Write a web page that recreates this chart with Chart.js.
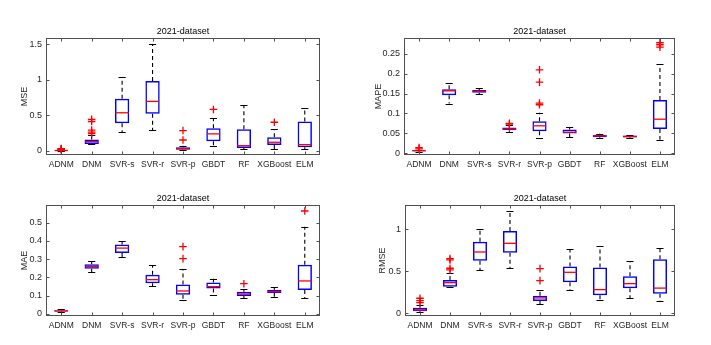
<!DOCTYPE html>
<html><head><meta charset="utf-8">
<script src="https://cdn.jsdelivr.net/npm/chart.js@4/dist/chart.umd.min.js"></script>
<style>
html,body{margin:0;padding:0;background:#fff;width:711px;height:345px;overflow:hidden;position:relative}
canvas{position:absolute}
</style></head><body>
<canvas id="c1" width="330" height="160" style="left:0px;top:20px"></canvas>
<canvas id="c2" width="345" height="160" style="left:340px;top:20px"></canvas>
<canvas id="c3" width="330" height="155" style="left:0px;top:187px"></canvas>
<canvas id="c4" width="345" height="155" style="left:340px;top:187px"></canvas>
<script>
const categories = ['ADNM','DNM','SVR-s','SVR-r','SVR-p','GBDT','RF','XGBoost','ELM'];
const chartTitle = '2021-dataset';

// MSE
const mseLow  = [0.000, 0.090, 0.260, 0.290, 0.005, 0.066, 0.020, 0.025, 0.020];
const mseQ1   = [0.001, 0.094, 0.387, 0.520, 0.014, 0.132, 0.038, 0.080, 0.047];
const mseMed  = [0.002, 0.127, 0.533, 0.693, 0.028, 0.236, 0.070, 0.118, 0.085];
const mseQ3   = [0.004, 0.156, 0.730, 0.980, 0.047, 0.316, 0.300, 0.190, 0.410];
const mseHigh = [0.008, 0.215, 1.030, 1.500, 0.070, 0.458, 0.640, 0.300, 0.600];
const mseOut  = [[0.012,0.018,0.024,0.030],[0.44,0.41,0.29,0.26,0.24],[],[],[0.283,0.15],[0.58],[],[0.40],[]];
const mseTicks = [0, 0.5, 1, 1.5];
const mseTickLabels = ['0','0.5','1','1.5'];

// MAPE
const mapeLow  = [0.004, 0.125, 0.148, 0.054, 0.038, 0.040, 0.0386, 0.038, 0.0336];
const mapeQ1   = [0.005, 0.146, 0.152, 0.058, 0.055, 0.0495, 0.040, 0.0394, 0.061];
const mapeMed  = [0.006, 0.157, 0.156, 0.061, 0.069, 0.053, 0.0436, 0.042, 0.0856];
const mapeQ3   = [0.0075, 0.161, 0.159, 0.0646, 0.0805, 0.060, 0.046, 0.0445, 0.134];
const mapeHigh = [0.009, 0.176, 0.164, 0.070, 0.102, 0.066, 0.0487, 0.046, 0.224];
const mapeOut  = [[0.011,0.014],[],[],[0.073,0.075],[0.21,0.179,0.126,0.122],[],[],[],[0.278,0.273,0.267]];
const mapeTicks = [0, 0.05, 0.1, 0.15, 0.2, 0.25];
const mapeTickLabels = ['0','0.05','0.1','0.15','0.2','0.25'];

// MAE
const maeLow  = [0.009, 0.228, 0.312, 0.153, 0.077, 0.104, 0.086, 0.095, 0.086];
const maeQ1   = [0.013, 0.248, 0.334, 0.168, 0.106, 0.139, 0.0985, 0.115, 0.131];
const maeMed  = [0.016, 0.261, 0.361, 0.188, 0.126, 0.150, 0.1095, 0.122, 0.181];
const maeQ3   = [0.020, 0.272, 0.380, 0.215, 0.162, 0.172, 0.122, 0.133, 0.270];
const maeHigh = [0.0255, 0.288, 0.400, 0.268, 0.245, 0.193, 0.135, 0.146, 0.478];
const maeOut  = [[],[],[],[],[0.369,0.303],[],[0.166],[],[0.564]];
const maeTicks = [0, 0.1, 0.2, 0.3, 0.4, 0.5];
const maeTickLabels = ['0','0.1','0.2','0.3','0.4','0.5'];

// RMSE
const rmseLow  = [0.016, 0.310, 0.516, 0.536, 0.107, 0.278, 0.155, 0.183, 0.147];
const rmseQ1   = [0.024, 0.317, 0.627, 0.722, 0.147, 0.369, 0.214, 0.298, 0.234];
const rmseMed  = [0.040, 0.365, 0.730, 0.833, 0.183, 0.488, 0.282, 0.353, 0.300];
const rmseQ3   = [0.067, 0.397, 0.853, 0.980, 0.210, 0.556, 0.544, 0.440, 0.643];
const rmseHigh = [0.100, 0.484, 1.004, 1.222, 0.274, 0.766, 0.800, 0.623, 0.774];
const rmseOut  = [[0.179,0.151,0.127],[0.651,0.635,0.536,0.516],[],[],[0.532,0.389],[],[],[],[]];
const rmseTicks = [0, 0.5, 1];
const rmseTickLabels = ['0','0.5','1'];

const FONT = "'Liberation Sans', Arial, sans-serif";
const TXT = '#262626';
const FRAME = '#505050';

const boxPlugin = {
  id: 'boxes',
  beforeDatasetsDraw(chart, args, o) {
    const ctx = chart.ctx, x = chart.scales.x, y = chart.scales.y;
    const bars = chart.getDatasetMeta(1).data;
    ctx.save();
    ctx.strokeStyle = '#000';
    ctx.lineWidth = 1.1;
    categories.forEach((c, i) => {
      const cx = x.getPixelForValue(i);
      const hw = bars[i].width / 4;
      ctx.setLineDash([4, 3]);
      ctx.beginPath();
      ctx.moveTo(cx, y.getPixelForValue(o.q3[i])); ctx.lineTo(cx, y.getPixelForValue(o.hi[i]));
      ctx.moveTo(cx, y.getPixelForValue(o.q1[i])); ctx.lineTo(cx, y.getPixelForValue(o.lo[i]));
      ctx.stroke();
      ctx.setLineDash([]);
      ctx.beginPath();
      const yh = Math.round(y.getPixelForValue(o.hi[i])) + 0.5;
      const yl = Math.round(y.getPixelForValue(o.lo[i])) + 0.5;
      ctx.moveTo(cx - hw, yh); ctx.lineTo(cx + hw, yh);
      ctx.moveTo(cx - hw, yl); ctx.lineTo(cx + hw, yl);
      ctx.stroke();
    });
    ctx.restore();
  },
  afterDatasetsDraw(chart, args, o) {
    const ctx = chart.ctx, x = chart.scales.x, y = chart.scales.y;
    const bars = chart.getDatasetMeta(1).data;
    ctx.save();
    ctx.strokeStyle = '#ff0000';
    ctx.lineWidth = 1.3;
    categories.forEach((c, i) => {
      const cx = x.getPixelForValue(i);
      const hw = bars[i].width / 2 - 0.5;
      const ym = y.getPixelForValue(o.med[i]);
      ctx.beginPath(); ctx.moveTo(cx - hw, ym); ctx.lineTo(cx + hw, ym); ctx.stroke();
    });
    ctx.restore();
  },
  afterDraw(chart, args, o) {
    const ctx = chart.ctx, a = chart.chartArea, x = chart.scales.x, y = chart.scales.y;
    ctx.save();
    const L = Math.round(a.left) + 0.5, R = Math.round(a.right) - 0.5;
    const T = Math.round(a.top) + 0.5, B = Math.round(a.bottom) - 0.5;
    ctx.strokeStyle = FRAME; ctx.lineWidth = 1;
    ctx.strokeRect(L, T, R - L, B - T);
    ctx.beginPath();
    o.ticks.forEach(v => {
      const yy = Math.round(y.getPixelForValue(v)) + 0.5;
      ctx.moveTo(L, yy); ctx.lineTo(L + 3, yy);
      ctx.moveTo(R, yy); ctx.lineTo(R - 3, yy);
    });
    categories.forEach((c, i) => {
      const xx = Math.round(x.getPixelForValue(i)) + 0.5;
      ctx.moveTo(xx, B); ctx.lineTo(xx, B - 3);
      ctx.moveTo(xx, T); ctx.lineTo(xx, T + 3);
    });
    ctx.stroke();
    ctx.fillStyle = '#000';
    ctx.font = '9px ' + FONT;
    ctx.textAlign = 'center'; ctx.textBaseline = 'middle';
    ctx.fillText(chartTitle, (a.left + a.right) / 2, a.top - 6);
    ctx.restore();
  }
};

function makeChart(id, p) {
  const outData = [];
  p.out.forEach((arr, i) => arr.forEach(v => outData.push({x: categories[i], y: v})));
  return new Chart(document.getElementById(id), {
    type: 'bar',
    data: {
      labels: categories,
      datasets: [
        {type: 'line', data: outData, showLine: false, pointStyle: 'cross', pointRadius: 3.8,
         pointBorderColor: '#ff0000', pointBackgroundColor: '#ff0000', pointBorderWidth: 1.3, order: 0},
        {type: 'bar', data: p.q1.map((v, i) => [v, p.q3[i]]), backgroundColor: 'rgba(0,0,0,0)',
         borderColor: '#0000ff', borderWidth: 1.5, borderSkipped: false, barPercentage: 0.47,
         categoryPercentage: 1, order: 1}
      ]
    },
    options: {
      responsive: false, animation: false, events: [],
      layout: {padding: {top: 18, right: p.padR, left: 0, bottom: 0}},
      plugins: {
        legend: {display: false}, tooltip: {enabled: false}, title: {display: false},
        boxes: {lo: p.lo, q1: p.q1, med: p.med, q3: p.q3, hi: p.hi, ticks: p.ticks}
      },
      scales: {
        x: {type: 'category', offset: true,
            grid: {display: false, drawTicks: false}, border: {display: false},
            ticks: {font: {family: FONT, size: 8.5}, color: TXT, padding: 5, maxRotation: 0, minRotation: 0, autoSkip: false},
            afterFit: s => { s.height = p.xH; }},
        y: {type: 'linear', min: p.min, max: p.max,
            grid: {display: false, drawTicks: false}, border: {display: false},
            afterBuildTicks: s => { s.ticks = p.ticks.map(v => ({value: v})); },
            ticks: {callback: (v, i) => p.tickLabels[i], font: {family: FONT, size: 9}, color: TXT, padding: 4},
            title: {display: true, text: p.name, font: {family: FONT, size: 9}, color: TXT,
                    padding: {top: p.titlePad, bottom: 0}},
            afterFit: s => { s.width = p.axisW; }}
      }
    },
    plugins: [boxPlugin]
  });
}

makeChart('c1', {name: 'MSE', lo: mseLow, q1: mseQ1, med: mseMed, q3: mseQ3, hi: mseHigh, out: mseOut,
  ticks: mseTicks, tickLabels: mseTickLabels, min: -0.061, max: 1.585, axisW: 46, padR: 10, xH: 25, titlePad: 19.6});
makeChart('c2', {name: 'MAPE', lo: mapeLow, q1: mapeQ1, med: mapeMed, q3: mapeQ3, hi: mapeHigh, out: mapeOut,
  ticks: mapeTicks, tickLabels: mapeTickLabels, min: -0.0045, max: 0.29, axisW: 64, padR: 10, xH: 25, titlePad: 33.6});
makeChart('c3', {name: 'MAE', lo: maeLow, q1: maeQ1, med: maeMed, q3: maeQ3, hi: maeHigh, out: maeOut,
  ticks: maeTicks, tickLabels: maeTickLabels, min: -0.011, max: 0.597, axisW: 46, padR: 10, xH: 26, titlePad: 19.6});
makeChart('c4', {name: 'RMSE', lo: rmseLow, q1: rmseQ1, med: rmseMed, q3: rmseQ3, hi: rmseHigh, out: rmseOut,
  ticks: rmseTicks, tickLabels: rmseTickLabels, min: -0.032, max: 1.289, axisW: 65, padR: 10, xH: 26, titlePad: 37.3});
</script>
</body></html>
